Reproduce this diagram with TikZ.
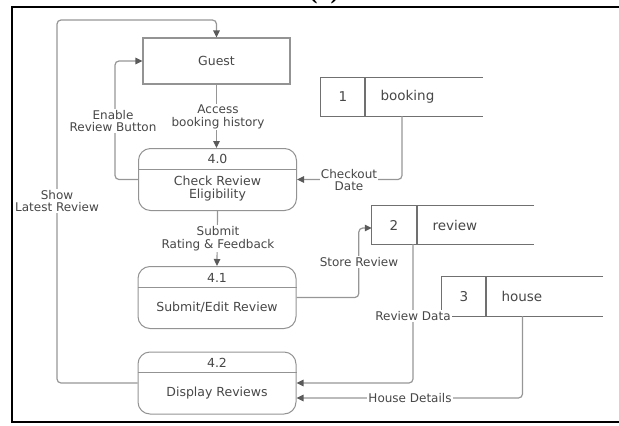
\documentclass[tikz,border=0pt]{standalone}
\usepackage{fontspec}
\setmainfont{DejaVu Sans}
\newfontfamily\titlefont{Liberation Serif}
\usetikzlibrary{arrows.meta}

\definecolor{linegray}{HTML}{969696}
\definecolor{tipgray}{HTML}{5A5A5A}
\definecolor{boxgray}{HTML}{939393}
\definecolor{storegray}{HTML}{707070}
\definecolor{textgray}{HTML}{474747}

\tikzset{
  flow/.style={draw=linegray, line width=1.2pt, rounded corners=4pt,
    -{Triangle[width=6.5pt,length=7pt,color=tipgray]}},
  lbl/.style={fill=white, inner sep=1pt, align=center, text=textgray,
    font=\fontsize{12}{12.5}\selectfont},
  entity/.style={draw=boxgray, line width=1.1pt, minimum width=147pt,
    minimum height=46pt, text=textgray, font=\fontsize{12.5}{13}\selectfont},
  proc/.style={draw=boxgray, line width=1pt, rounded corners=12pt,
    minimum width=158pt, minimum height=62pt},
  ptext/.style={text=textgray, align=center, font=\fontsize{12.5}{13}\selectfont},
  store/.style={minimum width=162pt, minimum height=38pt, inner sep=0pt},
  sline/.style={draw=storegray, line width=1.1pt},
  stext/.style={text=textgray, font=\fontsize{13.5}{14}\selectfont},
}

\begin{document}
\begin{tikzpicture}[x=1pt,y=-1pt]
\useasboundingbox (0,0) rectangle (619,426);

% page frame and caption (caption runs off the top of the page)
\node[font=\titlefont\bfseries\fontsize{26}{26}\selectfont, anchor=base] (caption) at (324,-2) {(3)};
\draw[line width=2.5pt] (619,7) -- (12,7) -- (12,422) -- (619,422);

% external entity
\node[entity] (guest) at (216.5,61) {Guest};

% processes
\node[proc] (p40) at (217.5,179.5) {};
\draw[draw=boxgray, line width=1pt] (p40.west |- 0,169) -- (p40.east |- 0,169);
\node[ptext] (p40n) at (217.5,159) {4.0};
\node[ptext] (p40t) at (217.5,188.5) {Check Review\\Eligibility};

\node[proc] (p41) at (217,297.5) {};
\draw[draw=boxgray, line width=1pt] (p41.west |- 0,287) -- (p41.east |- 0,287);
\node[ptext] (p41n) at (217,277.5) {4.1};
\node[ptext] (p41t) at (217,307.5) {Submit/Edit Review};

\node[proc] (p42) at (217,383) {};
\draw[draw=boxgray, line width=1pt] (p42.west |- 0,372) -- (p42.east |- 0,372);
\node[ptext] (p42n) at (217,362.5) {4.2};
\node[ptext] (p42t) at (217,393) {Display Reviews};

% data stores (open on the right)
\node[store] (s1) at (402,97) {};
\draw[sline] (s1.north east) -- (s1.north west) -- (s1.south west) -- (s1.south east);
\draw[sline] (365,78) -- (365,116);
\node[stext] (s1n) at (343,97) {1};
\node[stext, anchor=west] (s1t) at (377,97) {booking};

\node[store] (s2) at (453,225) {};
\draw[sline] (s2.north east) -- (s2.north west) -- (s2.south west) -- (s2.south east);
\draw[sline] (417,206) -- (417,244);
\node[stext] (s2n) at (394,225) {2};
\node[stext, anchor=west] (s2t) at (429,225) {review};

\node[store, minimum width=161pt, minimum height=39pt] (s3) at (522.5,296.5) {};
\draw[sline] (s3.north east) -- (s3.north west) -- (s3.south west) -- (s3.south east);
\draw[sline] (486,277) -- (486,316);
\node[stext] (s3n) at (464,296.5) {3};
\node[stext, anchor=west] (s3t) at (498,296.5) {house};

% data flows
\draw[flow] (guest.south) -- (guest.south |- p40.north);
\draw[flow] (p40.west) -- ++(-23,0) |- (guest.west);
\draw[flow] (s1.south) |- (p40.east);
\draw[flow] (p40.south) -- (p41.north);
\draw[flow] (p41.east) -| ([xshift=-13pt,yshift=-3pt]s2.west) -- ([yshift=-3pt]s2.west);
\draw[flow] ([xshift=-40pt]s2.south) |- (p42.east);
\draw[flow] (s3.south) |- ([yshift=-15pt]p42.east);
\draw[flow] (p42.west) -| (57,20) -| (guest.north);

% flow labels
\node[lbl] (l1) at (218,117) {Access\\booking history};
\node[lbl] (l2) at (113,121) {Enable\\Review Button};
\node[lbl] (l3) at (349,180) {Checkout\\Date};
\node[lbl] (l4) at (218,238.5) {Submit\\Rating \& Feedback};
\node[lbl] (l5) at (359,262) {Store Review};
\node[lbl] (l6) at (413,316) {Review Data};
\node[lbl] (l7) at (410,398) {House Details};
\node[lbl] (l8) at (57,201) {Show\\Latest Review};
\end{tikzpicture}
\end{document}
